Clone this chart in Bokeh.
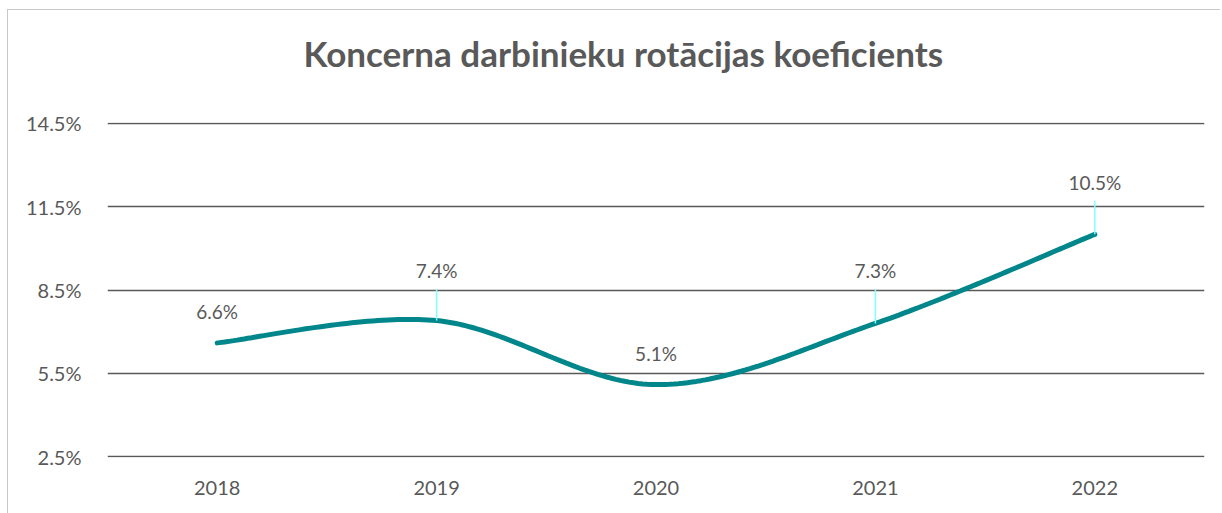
import numpy as np
from bokeh.plotting import figure
from bokeh.models import Range1d, FixedTicker, PrintfTickFormatter, ColumnDataSource, Title
from bokeh.core.properties import value
from bokeh.embed import file_html
from bokeh.resources import INLINE

# ---- data ----
years = ["2018", "2019", "2020", "2021", "2022"]
rates = [6.6, 7.4, 5.1, 7.3, 10.5]
y_ticks = [2.5, 5.5, 8.5, 11.5, 14.5]
title_text = "Koncerna darbinieku rotācijas koeficients"

# ---- styling ----
label_lift = [1.13, 1.80, 1.12, 1.90, 1.88]   # data-label offset above point
has_leader = [False, True, False, True, True]
TEAL = "#00868B"
GREY = "#595959"
FONT = "Lato"

xs = list(range(len(years)))
eps = 0.02

p = figure(width=1213, height=504, output_backend="svg", toolbar_location=None,
           x_range=Range1d(-0.5, len(years) - 0.5),
           y_range=Range1d(y_ticks[0] - eps, y_ticks[-1] + eps),
           min_border_left=99, min_border_right=17, min_border_top=112, min_border_bottom=57)
p.styles = {"margin-left": "7px", "margin-top": "9px",
            "border-left": "1px solid #c8c8c8", "border-top": "1px solid #c8c8c8"}
p.outline_line_color = None
p.background_fill_color = "white"

# spacer between frame and title (first added sits nearest the frame)
spacer = Title(text=" ", text_font_size="1px", standoff=46, text_color="white")
p.add_layout(spacer, "above")
t = Title(text=title_text, align="left", text_font=FONT, text_font_style="bold",
          text_font_size="35px", text_color=GREY, standoff=0, offset=196)
p.add_layout(t, "above")

# axes
p.xaxis.ticker = FixedTicker(ticks=xs)
p.xaxis.major_label_overrides = {i: y for i, y in enumerate(years)}
p.yaxis.ticker = FixedTicker(ticks=y_ticks)
p.yaxis.formatter = PrintfTickFormatter(format="%.1f%%")
for ax in (p.xaxis, p.yaxis):
    ax.axis_line_color = None
    ax.major_tick_line_color = None
    ax.minor_tick_line_color = None
    ax.major_label_text_font = FONT
    ax.major_label_text_font_size = "20px"
    ax.major_label_text_color = GREY
p.yaxis.major_label_standoff = 20
p.xaxis.major_label_standoff = 17
p.xgrid.grid_line_color = None
p.ygrid.ticker = FixedTicker(ticks=y_ticks)
p.ygrid.grid_line_color = GREY
p.ygrid.grid_line_width = 1.5

# smoothed line (Catmull-Rom style Bezier, as Excel smoothing)
pts = np.column_stack([xs, rates]).astype(float)
ext = np.vstack([pts[0], pts, pts[-1]])
cx, cy = [], []
for i in range(len(pts) - 1):
    p0, p1, p2, p3 = ext[i], ext[i + 1], ext[i + 2], ext[i + 3]
    c1 = p1 + (p2 - p0) / 6.0
    c2 = p2 - (p3 - p1) / 6.0
    tt = np.linspace(0, 1, 50)[:, None]
    seg = ((1 - tt) ** 3) * p1 + 3 * ((1 - tt) ** 2) * tt * c1 + 3 * (1 - tt) * tt ** 2 * c2 + tt ** 3 * p2
    if i > 0:
        seg = seg[1:]
    cx.extend(seg[:, 0]); cy.extend(seg[:, 1])
p.line(cx, cy, line_color=TEAL, line_width=5, line_cap="round")

# leader lines
lx0, ly0, ly1 = [], [], []
for x, r, lift, lead in zip(xs, rates, label_lift, has_leader):
    if lead:
        lx0.append(x); ly0.append(r); ly1.append(r + lift - 0.68)
p.segment(x0=lx0, y0=ly0, x1=lx0, y1=ly1, line_color="#7FFFFF", line_width=1.5)

# data labels
src = ColumnDataSource(dict(x=xs, y=[r + l for r, l in zip(rates, label_lift)],
                            txt=[f"{r:.1f}%" for r in rates]))
p.text(x="x", y="y", text="txt", source=src, text_align="center", text_baseline="middle",
       text_font=value(FONT), text_font_size="19px", text_color=GREY)

open("out.html", "w").write(file_html(p, INLINE))
